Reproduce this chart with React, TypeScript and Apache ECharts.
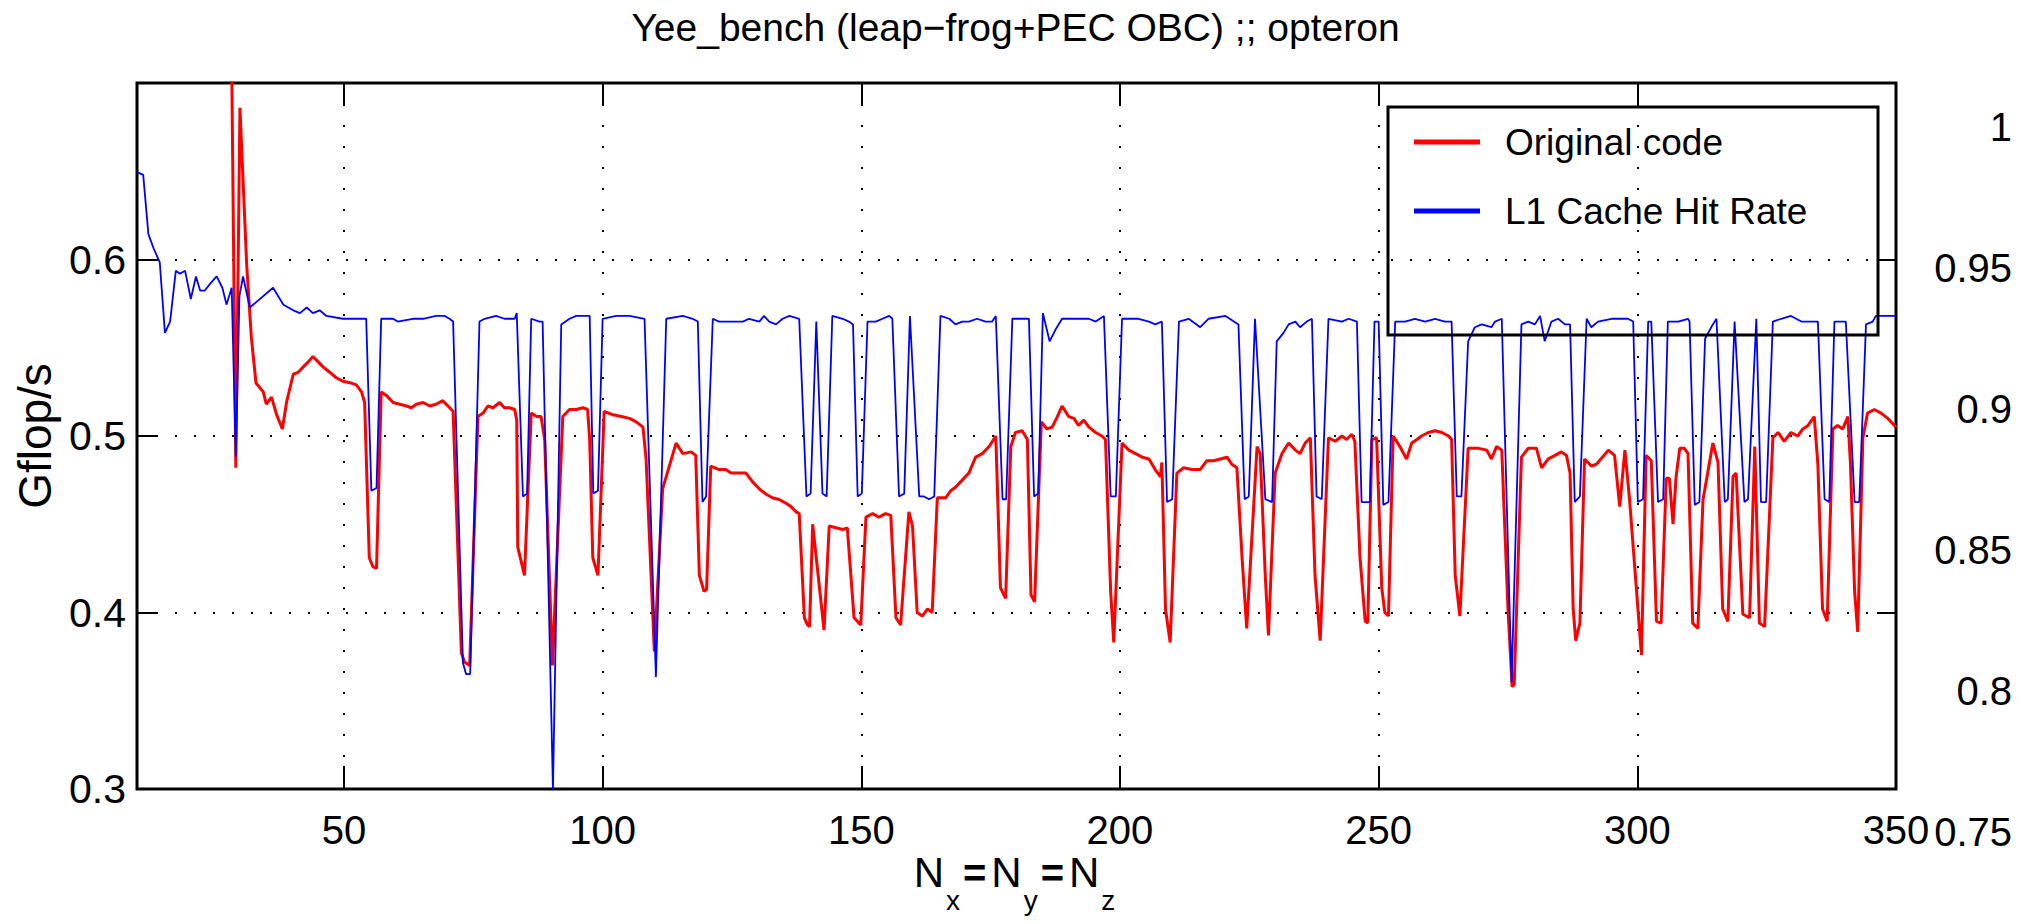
import React, { useEffect, useRef } from 'react';
import * as echarts from 'echarts';

const titleText = 'Yee_bench (leap\u2212frog+PEC OBC) ;; opteron';
const seriesNames = ['Original code', 'L1 Cache Hit Rate'];
const yAxisName = 'Gflop/s';
const xRange = [10, 350];
const leftRange = [0.3, 0.7];
const rightRange = [0.75, 1];

// Original code (Gflop/s, left axis)
const redData: [number, number][] = [
[28,0.80],[29.1,0.482],[29.9,0.686],[31.2,0.597],[32.1,0.556],[33,0.530],[34.4,0.525],[35,0.518],[36,0.522],[37,0.512],[38.1,0.504],[38.9,0.519],[40.2,0.535],[41.1,0.536],[42.1,0.539],[43.1,0.542],[44,0.545],[45,0.542],[46,0.539],[47.3,0.536],[48.5,0.533],[49.8,0.531],[51.4,0.530],[52.4,0.529],[53.4,0.525],[54,0.519],[54.9,0.431],[55.6,0.426],[56.3,0.425],[57.2,0.525],[58.2,0.523],[59.5,0.519],[60.8,0.518],[62.1,0.517],[63,0.516],[64,0.518],[65.3,0.519],[66.6,0.517],[67.8,0.518],[69.1,0.520],[70.1,0.517],[71.1,0.514],[72.7,0.377],[73.3,0.372],[74.3,0.370],[75.9,0.511],[76.9,0.513],[77.8,0.517],[78.8,0.516],[80.1,0.519],[81,0.516],[82,0.516],[83,0.515],[83.4,0.509],[83.6,0.437],[84.9,0.421],[86.2,0.513],[87.2,0.511],[88.1,0.511],[88.8,0.498],[90.3,0.370],[92.3,0.511],[93.6,0.515],[94.9,0.515],[96.2,0.516],[97.1,0.515],[97.5,0.498],[98.1,0.431],[99.1,0.421],[100.3,0.514],[102,0.512],[103.6,0.511],[105.2,0.510],[106.5,0.508],[107.8,0.505],[108.4,0.487],[110,0.378],[111.6,0.470],[114.2,0.496],[115.5,0.490],[117.1,0.491],[118,0.489],[118.7,0.421],[119.6,0.412],[120.1,0.413],[120.9,0.483],[122.5,0.481],[123.8,0.481],[124.8,0.479],[127.7,0.479],[129,0.474],[130.3,0.470],[131.6,0.467],[132.8,0.465],[134.1,0.464],[135.4,0.462],[136.4,0.460],[137.4,0.457],[138,0.456],[139,0.397],[139.6,0.393],[140,0.392],[140.6,0.450],[142.8,0.390],[143.8,0.449],[145.1,0.448],[146.4,0.447],[147.3,0.448],[148.6,0.397],[149.9,0.393],[150.9,0.454],[152.2,0.456],[153.4,0.454],[154.7,0.456],[155.7,0.455],[156.7,0.397],[157.6,0.393],[159.2,0.457],[159.9,0.449],[160.8,0.400],[161.8,0.398],[162.8,0.402],[163.7,0.400],[164.7,0.465],[166.3,0.465],[167.3,0.469],[168.2,0.471],[169.5,0.475],[170.8,0.479],[172.1,0.488],[173.4,0.490],[174.7,0.494],[176,0.500],[176.9,0.414],[177.9,0.408],[178.9,0.494],[179.8,0.502],[181.1,0.503],[182.1,0.498],[182.8,0.410],[183.5,0.406],[184.8,0.508],[185.9,0.504],[186.9,0.505],[187.9,0.511],[188.8,0.517],[190.1,0.511],[191.1,0.510],[192,0.506],[193,0.509],[194,0.505],[195.3,0.502],[196.5,0.500],[197.2,0.498],[198.2,0.412],[198.8,0.383],[200.4,0.496],[201.7,0.492],[203,0.490],[204.3,0.488],[205.6,0.487],[206.8,0.481],[207.8,0.477],[208.1,0.485],[208.8,0.402],[209.7,0.383],[211,0.479],[212.3,0.482],[213.9,0.481],[215.5,0.481],[216.8,0.486],[218.1,0.486],[219.4,0.487],[220.7,0.488],[221.6,0.484],[222.6,0.482],[223.6,0.431],[224.5,0.391],[226.5,0.494],[227.1,0.490],[228.1,0.420],[228.7,0.387],[230,0.479],[231.3,0.490],[232.6,0.496],[233.9,0.492],[234.8,0.490],[235.8,0.496],[236.8,0.499],[237.7,0.421],[238.7,0.384],[240.3,0.499],[241.6,0.497],[242.9,0.500],[243.8,0.498],[244.8,0.501],[245.4,0.497],[246.4,0.431],[247.4,0.395],[247.9,0.394],[248.7,0.498],[249.6,0.499],[250.6,0.414],[251.2,0.400],[251.9,0.398],[252.8,0.500],[254.1,0.494],[255.4,0.487],[256.4,0.496],[257.4,0.498],[258.3,0.500],[259.6,0.502],[260.9,0.503],[262.2,0.502],[263.5,0.500],[264.1,0.498],[264.8,0.421],[265.7,0.398],[267.3,0.493],[269.3,0.493],[270.9,0.492],[271.8,0.487],[272.8,0.494],[273.8,0.492],[275,0.402],[275.8,0.358],[276.2,0.359],[277.6,0.488],[278.9,0.493],[280.5,0.493],[281.5,0.482],[282.8,0.487],[284.1,0.489],[285.3,0.491],[286.3,0.489],[287,0.479],[287.6,0.402],[288.1,0.384],[288.9,0.394],[289.8,0.487],[291.1,0.483],[292.1,0.484],[294.4,0.492],[295.6,0.489],[296.6,0.460],[297.6,0.492],[298.5,0.464],[300.8,0.376],[301.7,0.489],[302.7,0.486],[303.7,0.395],[304.6,0.394],[305.6,0.476],[306.2,0.476],[306.9,0.450],[307.5,0.477],[308.2,0.493],[309.1,0.493],[309.8,0.490],[310.7,0.394],[311.7,0.391],[312.7,0.464],[313.6,0.479],[314.6,0.496],[315.6,0.485],[316.5,0.402],[317.5,0.395],[318.5,0.477],[319.1,0.479],[320.4,0.399],[321.7,0.397],[322.7,0.494],[323.6,0.394],[324.6,0.392],[326.2,0.499],[327.2,0.502],[328.4,0.497],[329.7,0.502],[331,0.500],[332,0.504],[333,0.506],[334.2,0.511],[334.9,0.484],[335.8,0.402],[336.7,0.395],[337.8,0.504],[338.7,0.506],[339.7,0.504],[340.7,0.511],[341.2,0.484],[342,0.412],[342.6,0.389],[343.6,0.499],[344.5,0.513],[345.8,0.515],[347.1,0.513],[348.4,0.510],[349.7,0.506],[350,0.505]
];

// L1 cache hit rate (right axis)
const blueData: [number, number][] = [
[10,0.984],[11.2,0.983],[12.2,0.962],[13.2,0.957],[14.4,0.952],[15.4,0.927],[16.4,0.931],[17.5,0.949],[18.3,0.948],[19.3,0.949],[20.4,0.939],[21.4,0.947],[22.2,0.942],[23.1,0.942],[24.4,0.945],[25.4,0.947],[26.5,0.943],[27.3,0.937],[28.3,0.943],[29.1,0.883],[29.8,0.940],[30.5,0.947],[31.8,0.936],[33.1,0.938],[36.3,0.943],[38.3,0.937],[40.2,0.935],[41.5,0.934],[42.8,0.936],[44,0.934],[45.3,0.935],[46.6,0.933],[49.8,0.932],[54.3,0.932],[55.3,0.871],[56.3,0.872],[57.2,0.932],[59.5,0.932],[60.4,0.931],[63.3,0.932],[65.3,0.932],[67.8,0.933],[69.5,0.933],[70.4,0.932],[71.1,0.931],[73,0.810],[73.6,0.806],[74.4,0.806],[76.2,0.931],[77.2,0.932],[79.4,0.933],[81,0.932],[83,0.932],[83.4,0.934],[84.6,0.869],[85.4,0.870],[86.2,0.932],[87.8,0.931],[88.4,0.931],[90.4,0.765],[92,0.930],[93.6,0.932],[94.9,0.933],[97.5,0.933],[98.2,0.870],[99.1,0.871],[100,0.932],[102.6,0.933],[105.2,0.933],[108.1,0.932],[110.3,0.805],[112.3,0.932],[115.5,0.933],[117.4,0.932],[118.4,0.931],[119.3,0.867],[120,0.869],[121.3,0.932],[122.5,0.931],[124.5,0.931],[127.1,0.931],[128.3,0.932],[130.3,0.931],[131.2,0.933],[132.2,0.931],[133.5,0.930],[134.8,0.932],[136.1,0.933],[138,0.932],[139.4,0.869],[140.2,0.870],[141.3,0.931],[142.5,0.870],[143.3,0.869],[144.4,0.933],[146.4,0.932],[147.6,0.931],[148.4,0.930],[149.3,0.869],[150.1,0.870],[151.2,0.931],[152.8,0.931],[154.1,0.932],[155.4,0.933],[156,0.932],[157.3,0.869],[158.3,0.870],[159.4,0.933],[161.2,0.869],[162.1,0.869],[163.1,0.868],[164.1,0.869],[165.3,0.933],[167,0.932],[168.2,0.930],[169.5,0.931],[170.8,0.931],[172.4,0.932],[174,0.931],[175.3,0.931],[176,0.933],[177.3,0.868],[178,0.868],[179.2,0.932],[181.8,0.932],[182.4,0.932],[183.4,0.869],[184.2,0.870],[185.1,0.934],[186.4,0.924],[187.5,0.928],[188.8,0.932],[192,0.932],[194,0.932],[195.3,0.931],[196.9,0.933],[198.2,0.869],[199.2,0.869],[200.4,0.932],[203.6,0.932],[205.6,0.931],[206.8,0.930],[208.1,0.931],[209.1,0.867],[210.1,0.868],[211.4,0.931],[213.3,0.932],[215.5,0.929],[217.1,0.932],[220.4,0.933],[222.9,0.930],[224.1,0.868],[224.9,0.869],[226.1,0.932],[228.1,0.868],[229.4,0.867],[230.3,0.924],[231.6,0.927],[232.6,0.930],[233.9,0.931],[234.8,0.929],[236.1,0.931],[237.1,0.932],[238,0.869],[239,0.868],[240.3,0.932],[242.9,0.931],[244.2,0.932],[245.8,0.931],[246.7,0.867],[247.7,0.867],[248.3,0.867],[249.2,0.931],[250,0.931],[250.9,0.866],[251.9,0.867],[253.2,0.931],[255.1,0.931],[257,0.932],[259,0.931],[260.9,0.932],[262.8,0.931],[264.1,0.931],[265.1,0.869],[266,0.869],[267.3,0.924],[268.6,0.929],[269.9,0.930],[271.8,0.929],[272.5,0.931],[273.8,0.932],[275.7,0.803],[277.6,0.930],[278.9,0.931],[280.2,0.930],[281.2,0.933],[282.1,0.924],[283.4,0.931],[284.7,0.932],[286,0.930],[287,0.930],[287.9,0.867],[288.9,0.869],[290.2,0.932],[291.1,0.929],[292.4,0.931],[295,0.932],[298.2,0.932],[299.2,0.931],[300.1,0.867],[301.1,0.868],[302.1,0.931],[302.7,0.931],[304,0.867],[305,0.868],[305.9,0.931],[307.9,0.931],[309.8,0.932],[310.1,0.931],[311.1,0.866],[312,0.867],[313.1,0.925],[314.6,0.930],[315.3,0.932],[316.9,0.867],[317.5,0.868],[318.8,0.931],[320.7,0.867],[321.4,0.868],[323,0.932],[323.9,0.867],[324.9,0.867],[326.2,0.931],[327.8,0.932],[329.7,0.933],[331.7,0.931],[334.9,0.931],[336.2,0.868],[337.1,0.867],[338.1,0.931],[340.3,0.931],[342,0.867],[342.9,0.867],[344.2,0.930],[345.5,0.931],[346.1,0.933],[350,0.933]
];

const FONT = "'Liberation Sans', Arial, Helvetica, sans-serif";
const fmt = (v: number) => String(Math.round(v * 100) / 100);

export default function App() {
  const ref = useRef<HTMLDivElement>(null);
  useEffect(() => {
    document.body.style.margin = '0';
    const chart = echarts.init(ref.current!, null, { renderer: 'svg' });
    const tick = { color: '#000', width: 2 };
    const dotted = (gap: number) => ({ color: '#000', width: 2, type: [2, gap] as any });
    chart.setOption({
      animation: false,
      backgroundColor: '#ffffff',
      textStyle: { fontFamily: FONT, color: '#000' },
      title: {
        text: titleText,
        left: 'center',
        top: 3,
        textStyle: { fontFamily: FONT, fontSize: 39, fontWeight: 'normal', color: '#000' },
      },
      legend: {
        data: seriesNames,
        orient: 'vertical',
        left: 1409,
        top: 116,
        icon: 'rect',
        itemWidth: 66,
        itemHeight: 5,
        itemGap: 27,
        selectedMode: false,
        textStyle: { fontFamily: FONT, fontSize: 37, color: '#000', lineHeight: 42, padding: [0, 0, 0, 20] },
      },
      grid: [
        { left: 137, right: 135, top: 83, bottom: 135, show: true, borderColor: '#000', borderWidth: 3, backgroundColor: 'transparent' },
        { left: 137, right: 135, top: 127, bottom: 92, show: false },
      ],
      xAxis: [
        {
          type: 'value', gridIndex: 0, position: 'bottom', min: xRange[0], max: xRange[1], splitNumber: 7,
          axisLine: { show: false },
          axisTick: { show: true, inside: true, length: 23, lineStyle: tick },
          axisLabel: { showMinLabel: false, margin: 21, fontSize: 40, color: '#000', fontFamily: FONT },
          splitLine: { show: true, lineStyle: dotted(19) },
        },
        {
          type: 'value', gridIndex: 0, position: 'top', min: xRange[0], max: xRange[1], splitNumber: 7,
          axisLine: { show: false },
          axisTick: { show: true, inside: true, length: 22, lineStyle: tick },
          axisLabel: { show: false },
          splitLine: { show: false },
        },
        { type: 'value', gridIndex: 1, min: xRange[0], max: xRange[1], show: false },
      ],
      yAxis: [
        {
          type: 'value', gridIndex: 0, position: 'left', min: leftRange[0], max: leftRange[1], interval: 0.1,
          name: yAxisName, nameLocation: 'middle', nameGap: 78,
          nameTextStyle: { fontFamily: FONT, fontSize: 46, color: '#000' },
          axisLine: { show: false },
          axisTick: { show: true, inside: true, length: 19, lineStyle: tick },
          axisLabel: { showMaxLabel: false, margin: 11, fontSize: 41, color: '#000', fontFamily: FONT, formatter: fmt },
          splitLine: { show: true, lineStyle: dotted(17) },
        },
        {
          type: 'value', gridIndex: 0, position: 'right', min: leftRange[0], max: leftRange[1], interval: 0.1,
          axisLine: { show: false },
          axisTick: { show: true, inside: true, length: 19, lineStyle: tick },
          axisLabel: { show: false },
          splitLine: { show: false },
        },
        {
          type: 'value', gridIndex: 1, position: 'right', min: rightRange[0], max: rightRange[1], interval: 0.05,
          axisLine: { show: false },
          axisTick: { show: false },
          axisLabel: { align: 'right', margin: 116, fontSize: 40, color: '#000', fontFamily: FONT, formatter: fmt },
          splitLine: { show: false },
        },
      ],
      series: [
        {
          name: seriesNames[0], type: 'line', xAxisIndex: 0, yAxisIndex: 0, data: redData,
          symbol: 'none', showSymbol: false, z: 3,
          lineStyle: { color: '#ff0000', width: 3 }, itemStyle: { color: '#ff0000' },
        },
        {
          name: seriesNames[1], type: 'line', xAxisIndex: 2, yAxisIndex: 2, data: blueData,
          symbol: 'none', showSymbol: false, z: 4,
          lineStyle: { color: '#0000ff', width: 1.8 }, itemStyle: { color: '#0000ff' },
        },
      ],
      graphic: [
        {
          type: 'rect', z: 10,
          shape: { x: 1388, y: 107, width: 490, height: 228 },
          style: { fill: 'none', stroke: '#000', lineWidth: 3 },
        },
        {
          type: 'text', z: 10, x: 1016, y: 872,
          style: {
            text: '{n|N}{s|x}{e|=}{n|N}{s|y}{e|=}{n|N}{s|z}',
            align: 'center', verticalAlign: 'top', fill: '#000',
            rich: {
              n: { fontSize: 42, fontFamily: FONT, fill: '#000', lineHeight: 42, padding: [0, 0, 21, 0], verticalAlign: 'bottom' },
              s: { fontSize: 28, fontFamily: FONT, fill: '#000', lineHeight: 28, verticalAlign: 'bottom', padding: [0, 3, 0, 2] },
              e: { fontSize: 40, fontFamily: FONT, fill: '#000', fontWeight: 'bold', lineHeight: 40, padding: [0, 5, 21, 0], verticalAlign: 'bottom' },
            },
          },
        },
      ],
    });
    return () => chart.dispose();
  }, []);
  return <div ref={ref} style={{ position: 'fixed', left: 0, top: 0, width: 2031, height: 924, background: '#fff' }} />;
}
